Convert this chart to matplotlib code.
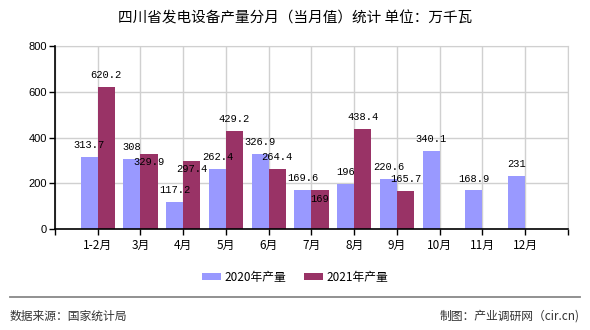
import numpy as np
import matplotlib.pyplot as plt
from matplotlib.lines import Line2D

plt.rcParams['font.family'] = ['Noto Sans CJK SC', 'DejaVu Sans']

months = ["1-2月", "3月", "4月", "5月", "6月", "7月", "8月", "9月", "10月", "11月", "12月"]
prod_2020 = [313.7, 308, 117.2, 262.4, 326.9, 169.6, 196, 220.6, 340.1, 168.9, 231]
prod_2021 = [620.2, 329.9, 297.4, 429.2, 264.4, 169, 438.4, 165.7]
labels_2020 = ["313.7", "308", "117.2", "262.4", "326.9", "169.6", "196", "220.6", "340.1", "168.9", "231"]
labels_2021 = ["620.2", "329.9", "297.4", "429.2", "264.4", "169", "438.4", "165.7"]

c2020 = "#9999ff"
c2021 = "#993366"

fig = plt.figure(figsize=(5.9, 3.3), dpi=100)
ax = fig.add_axes([0.0932, 0.306, 0.8695, 0.5546])

x = np.arange(len(months))
w = 0.4
b1 = ax.bar(x[:len(prod_2020)] - w / 2, prod_2020, w, color=c2020, label="2020年产量", zorder=3)
b2 = ax.bar(x[:len(prod_2021)] + w / 2, prod_2021, w, color=c2021, label="2021年产量", zorder=3)

num_font = dict(family="Liberation Mono", fontsize=7.5, color="black")
inside = {1, 2, 5}  # 2021 labels drawn below the bar top
for i, (v, s) in enumerate(zip(prod_2020, labels_2020)):
    ax.annotate(s, (x[i] - w / 2, v), xytext=(0, 8.5), textcoords="offset points",
                ha="center", va="center", zorder=5, **num_font)
for i, (v, s) in enumerate(zip(prod_2021, labels_2021)):
    off = -6 if i in inside else 8.5
    ax.annotate(s, (x[i] + w / 2, v), xytext=(0, off), textcoords="offset points",
                ha="center", va="center", zorder=5, **num_font)

ax.set_xlim(-1, len(months))
ax.set_ylim(0, 800)
ax.set_yticks([0, 200, 400, 600, 800])
ax.set_xticks(np.arange(-1, len(months) + 1))
ax.set_xticklabels([""] + months + [""])
ax.tick_params(axis="x", length=4, width=1, labelsize=8.5, pad=3)
ax.tick_params(axis="y", length=4, width=1, labelsize=8, pad=2)
for t in ax.get_yticklabels():
    t.set_family(["Liberation Sans", "DejaVu Sans"])
ax.grid(True, color="#d0d0d0", lw=1, zorder=0)
for s in ["top", "right"]:
    ax.spines[s].set_color("#d0d0d0")
for s in ["left", "bottom"]:
    ax.spines[s].set_color("black")
    ax.spines[s].set_linewidth(1.2)
    ax.spines[s].set_zorder(4)

fig.text(0.5, 0.945, "四川省发电设备产量分月（当月值）统计 单位：万千瓦",
         ha="center", va="center", fontsize=10.5)

fig.legend(handles=[b1, b2], loc="center", bbox_to_anchor=(0.5, 0.16), ncol=2,
           frameon=False, fontsize=8.5, handlelength=1.6, handleheight=0.6,
           handletextpad=0.3, columnspacing=1.5)

fig.add_artist(Line2D([10 / 590, 580 / 590], [1 - 297 / 330] * 2, color="#888888", lw=1.3))
fig.text(10 / 590, 1 - 316 / 330, "数据来源：国家统计局", ha="left", va="center",
         fontsize=8.5, color="#333333")
fig.text(580 / 590, 1 - 316 / 330, "制图：产业调研网（cir.cn)", ha="right", va="center",
         fontsize=8.5, color="#333333")

fig.savefig("out.png", dpi=100)
